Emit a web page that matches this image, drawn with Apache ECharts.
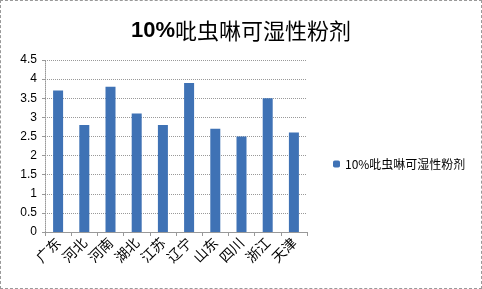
<!DOCTYPE html>
<html><head><meta charset="utf-8">
<script src="https://cdn.jsdelivr.net/npm/echarts@6/dist/echarts.min.js"></script>
<style>html,body{margin:0;padding:0;background:#fff}#c{width:482px;height:289px;box-sizing:border-box;border:1px dashed #999}</style>
</head><body><div id="c"></div>
<script>
const categories = ['广东','河北','河南','湖北','江苏','辽宁','山东','四川','浙江','天津'];
const seriesName = '10%吡虫啉可湿性粉剂';
const values = [3.7, 2.8, 3.8, 3.1, 2.8, 3.9, 2.7, 2.5, 3.5, 2.6];
const chart = echarts.init(document.getElementById('c'));
chart.setOption({
  animation: false,
  title: { text: '{a|10%}{b|吡虫啉可湿性粉剂}', left: 'center', top: 14,
    textStyle: { rich: {
      a: { fontFamily: 'Liberation Sans', fontSize: 22, fontWeight: 'bold', color: '#000' },
      b: { fontFamily: 'Noto Sans CJK SC', fontSize: 22, fontWeight: 'normal', color: '#000' } } } },
  legend: { data: [seriesName], orient: 'vertical', left: 327, top: 152, itemWidth: 7, itemHeight: 7, itemGap: 4,
    textStyle: { fontFamily: 'Noto Sans CJK SC', fontSize: 12, color: '#000' } },
  grid: { left: 44, top: 59, width: 262, height: 172 },
  xAxis: { type: 'category', data: categories,
    axisLine: { lineStyle: { color: '#999' } },
    axisTick: { show: true, length: 4, lineStyle: { color: '#999' } },
    axisLabel: { rotate: 45, margin: 8, fontFamily: 'Noto Sans CJK SC', fontSize: 14, color: '#000' } },
  yAxis: { type: 'value', min: 0, max: 4.5, interval: 0.5,
    axisLine: { show: true, lineStyle: { color: '#999', type: 'dotted' } },
    axisTick: { show: true, length: 3, lineStyle: { color: '#999' } },
    axisLabel: { fontFamily: 'Liberation Sans', fontSize: 12, color: '#000', margin: 8 },
    splitLine: { lineStyle: { color: '#999', type: 'dotted' } } },
  series: [{ name: seriesName, type: 'bar', data: values, barWidth: 10,
    itemStyle: { color: '#3f72b5' } }]
});
</script></body></html>
